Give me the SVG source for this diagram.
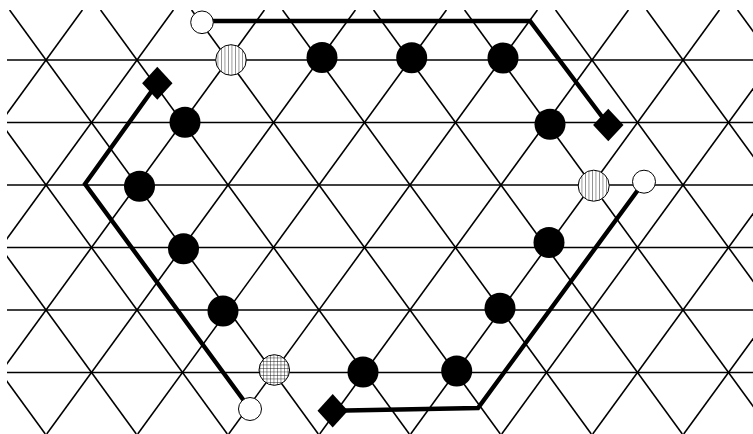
<svg xmlns="http://www.w3.org/2000/svg" width="753" height="434" viewBox="0 0 753 434">
<style>
.lat line{stroke:#000;stroke-width:1.6;fill:none}
.thick{stroke:#000;stroke-width:4.4;fill:none;stroke-linejoin:miter}
.dot{fill:#000}
.white{fill:#fff;stroke:#000;stroke-width:1}
.vh{fill:url(#vhatch);stroke:#000;stroke-width:1}
.gh{fill:url(#ghatch);stroke:#000;stroke-width:1}
.dia{fill:#000}
</style>
<defs>
<clipPath id="clip"><rect x="7" y="10" width="746" height="424"/></clipPath>
<pattern id="vhatch" patternUnits="userSpaceOnUse" x="0.5" y="0" width="3.5" height="3.5">
<rect width="3.5" height="3.5" fill="#fff"/>
<line x1="0" y1="0" x2="0" y2="3.5" stroke="#000" stroke-width="0.8"/>
</pattern>
<pattern id="ghatch" patternUnits="userSpaceOnUse" x="0.5" y="0.5" width="3.5" height="3.5">
<rect width="3.5" height="3.5" fill="#fff"/>
<line x1="0" y1="0" x2="0" y2="3.5" stroke="#000" stroke-width="0.8"/>
<line x1="0" y1="0" x2="3.5" y2="0" stroke="#000" stroke-width="0.8"/>
</pattern>
</defs>
<rect width="753" height="434" fill="#fff"/>
<g id="lattice" class="lat" clip-path="url(#clip)">
<line x1="7" y1="60" x2="753" y2="60"/>
<line x1="7" y1="122.5" x2="753" y2="122.5"/>
<line x1="7" y1="185" x2="753" y2="185"/>
<line x1="7" y1="247.5" x2="753" y2="247.5"/>
<line x1="7" y1="310" x2="753" y2="310"/>
<line x1="7" y1="372.5" x2="753" y2="372.5"/>
<line x1="-263.4" y1="10" x2="45.3" y2="434"/>
<line x1="-172.4" y1="10" x2="136.3" y2="434"/>
<line x1="-81.4" y1="10" x2="227.3" y2="434"/>
<line x1="9.6" y1="10" x2="318.3" y2="434"/>
<line x1="100.6" y1="10" x2="409.3" y2="434"/>
<line x1="191.6" y1="10" x2="500.3" y2="434"/>
<line x1="282.6" y1="10" x2="591.3" y2="434"/>
<line x1="373.6" y1="10" x2="682.3" y2="434"/>
<line x1="464.6" y1="10" x2="773.3" y2="434"/>
<line x1="555.6" y1="10" x2="864.3" y2="434"/>
<line x1="646.6" y1="10" x2="955.3" y2="434"/>
<line x1="737.6" y1="10" x2="1046.3" y2="434"/>
<line x1="82.4" y1="10" x2="-226.3" y2="434"/>
<line x1="173.4" y1="10" x2="-135.3" y2="434"/>
<line x1="264.4" y1="10" x2="-44.3" y2="434"/>
<line x1="355.4" y1="10" x2="46.7" y2="434"/>
<line x1="446.4" y1="10" x2="137.7" y2="434"/>
<line x1="537.4" y1="10" x2="228.7" y2="434"/>
<line x1="628.4" y1="10" x2="319.7" y2="434"/>
<line x1="719.4" y1="10" x2="410.7" y2="434"/>
<line x1="810.4" y1="10" x2="501.7" y2="434"/>
<line x1="901.4" y1="10" x2="592.7" y2="434"/>
<line x1="992.4" y1="10" x2="683.7" y2="434"/>
</g>
<g id="connectors">
<polyline class="thick" points="202,21 530,21 608.3,125"/>
<polyline class="thick" points="157.3,83.3 85,184 250,409"/>
<polyline class="thick" points="644,181.7 478,408 332.7,410.7"/>
</g>
<g id="w1"><circle class="white" cx="202" cy="22.3" r="11.3"/></g>
<g id="h1"><circle class="vh" cx="231" cy="60" r="15.3"/></g>
<g id="n1"><circle class="dot" cx="322" cy="57.5" r="15.5"/></g>
<g id="n2"><circle class="dot" cx="411.7" cy="57.7" r="15.5"/></g>
<g id="n3"><circle class="dot" cx="503" cy="58" r="15.5"/></g>
<g id="n4"><circle class="dot" cx="550" cy="124.2" r="15.5"/></g>
<g id="h2"><circle class="vh" cx="593.7" cy="185.7" r="15.5"/></g>
<g id="w2"><circle class="white" cx="644" cy="181.7" r="11.5"/></g>
<g id="n5"><circle class="dot" cx="549" cy="242.5" r="15.5"/></g>
<g id="n6"><circle class="dot" cx="500" cy="308.3" r="15.5"/></g>
<g id="n7"><circle class="dot" cx="456.7" cy="371" r="15.5"/></g>
<g id="n8"><circle class="dot" cx="363" cy="372" r="15.5"/></g>
<g id="g1"><circle class="gh" cx="274.3" cy="370" r="15.3"/></g>
<g id="w3"><circle class="white" cx="250" cy="409" r="11.5"/></g>
<g id="n9"><circle class="dot" cx="223" cy="311" r="15.5"/></g>
<g id="n10"><circle class="dot" cx="183.5" cy="248.7" r="15.5"/></g>
<g id="n11"><circle class="dot" cx="139.5" cy="186.3" r="15.5"/></g>
<g id="n12"><circle class="dot" cx="185" cy="122.2" r="15.5"/></g>
<g id="d1"><polygon class="dia" points="157.3,66.8 172.5,83.3 157.3,99.8 142.1,83.3"/></g>
<g id="d2"><polygon class="dia" points="608.3,108.8 623.5,125 608.3,141.2 593.1,125"/></g>
<g id="d3"><polygon class="dia" points="332.7,394 347.9,410.7 332.7,427.4 317.5,410.7"/></g>
</svg>
